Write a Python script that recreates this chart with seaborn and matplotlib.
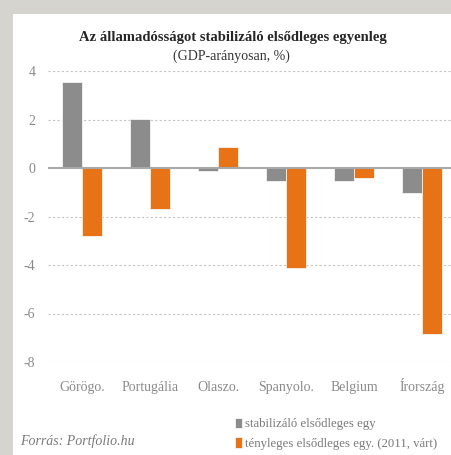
import pandas as pd
import matplotlib.pyplot as plt
import seaborn as sns
from matplotlib.patches import Rectangle

# Data
orszagok = ["Görögo.", "Portugália", "Olaszo.", "Spanyolo.", "Belgium", "Írország"]
stabilizalo = [3.55, 2.03, -0.11, -0.54, -0.54, -1.02]
tenyleges = [-2.79, -1.70, 0.85, -4.14, -0.43, -6.85]
sorozatok = ["stabilizáló elsődleges egy", "tényleges elsődleges egy. (2011, várt)"]
y_ticks = [-8, -6, -4, -2, 0, 2, 4]

df = pd.DataFrame({
    "orszag": orszagok * 2,
    "ertek": stabilizalo + tenyleges,
    "sorozat": [sorozatok[0]] * len(orszagok) + [sorozatok[1]] * len(orszagok),
})

sns.set_style("white")
plt.rcParams["font.family"] = ["Liberation Serif", "DejaVu Serif"]
plt.rcParams["axes.unicode_minus"] = False

W, H = 452, 455
fig = plt.figure(figsize=(W / 100, H / 100), dpi=100)
fig.patch.set_facecolor("#d6d4cf")
fig.patches.append(Rectangle((13 / W, 0), 1, 1 - 14 / H, transform=fig.transFigure,
                             facecolor="white", edgecolor="none", zorder=-5))

ax = fig.add_axes([48 / W, (H - 362) / H, 404 / W, 291 / H])
ax.set_facecolor("none")
ax.set_zorder(2)

sns.barplot(data=df, x="orszag", y="ertek", hue="sorozat",
            palette=["#8c8c8c", "#e87316"], width=0.6, saturation=1,
            edgecolor="#f4f4f4", linewidth=0.6, ax=ax, zorder=3)

ax.set_ylim(-8, 4)
ax.set_xlim(-0.5, 5.44)
ax.set_yticks(y_ticks)
for t in y_ticks:
    if t != 0:
        ax.axhline(t, color="#c4c4c4", linestyle=(0, (2, 2)), linewidth=0.8, zorder=1)
ax.axhline(0, color="#a8a8a8", linewidth=1.5, zorder=4)

for s in ax.spines.values():
    s.set_visible(False)
ax.tick_params(axis="both", length=0, colors="#8a8a8a", labelsize=10)
ax.tick_params(axis="x", pad=21)
ax.tick_params(axis="y", pad=9)
for lbl in ax.get_xticklabels():
    lbl.set_verticalalignment("baseline")
ax.set_xlabel("")
ax.set_ylabel("")

handles, labels = ax.get_legend_handles_labels()
ax.get_legend().remove()
leg = fig.legend(handles, labels, loc="upper left", bbox_to_anchor=(224 / W, 1 - 406 / H),
                 frameon=False, fontsize=9.2, labelcolor="#7a7a7a",
                 handlelength=0.5, handleheight=0.9, handletextpad=0.25, labelspacing=0.55)
leg.set_zorder(5)

fig.text(233 / W, 1 - 37 / H, "Az államadósságot stabilizáló elsődleges egyenleg",
         ha="center", va="center", fontsize=10.5, fontweight="bold", color="#262626")
fig.text(231 / W, 1 - 56 / H, "(GDP-arányosan, %)",
         ha="center", va="center", fontsize=10, color="#333333")
fig.text(20 / W, 1 - 441 / H, "Forrás: Portfolio.hu",
         ha="left", va="center", fontsize=10, style="italic", color="#7a7a7a")

plt.savefig("out.png", dpi=100, facecolor=fig.get_facecolor())
